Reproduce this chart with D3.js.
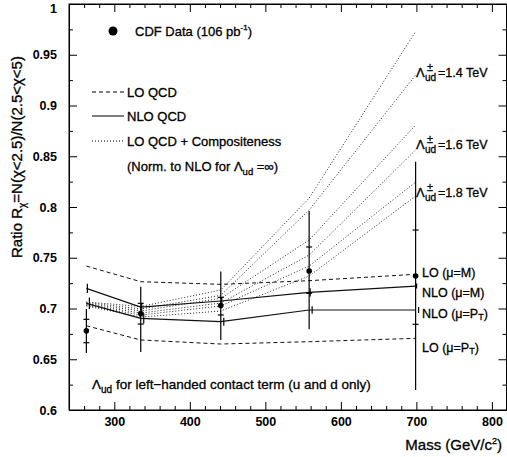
<!DOCTYPE html>
<html><head><meta charset="utf-8">
<script src="https://cdn.jsdelivr.net/npm/d3@7"></script>
<style>
body{margin:0;background:#fff;}
svg text{font-family:"Liberation Sans",Arial,sans-serif;fill:#000;}
svg text.lbl{stroke:#000;stroke-width:0.3px;}
</style></head>
<body><svg id="c" width="507" height="457"></svg>
<script>
// ---- data ----
const massPts = [263, 335, 441, 558, 699];
const dataR      = [0.678, 0.695, 0.703, 0.737, 0.732];
const dataStatHi = [0.6893, 0.7051, 0.7110, 0.7606, 0.7773];
const dataStatLo = [0.6663, 0.6847, 0.6936, 0.7150, 0.6844];
const dataTotHi  = [0.6995, 0.7215, 0.7364, 0.7960, 0.8446];
const dataTotLo  = [0.6561, 0.6571, 0.6690, 0.6795, 0.6197];
const loM   = [0.7418, 0.7264, 0.7238, 0.7274, 0.7337];
const loPt  = [0.6830, 0.6690, 0.6650, 0.6673, 0.6706];
const nloM  = [0.7198, 0.7014, 0.7074, 0.7159, 0.7221];
const nloPt = [0.7051, 0.6903, 0.6870, 0.6985, 0.6985];
const nloMErr  = [0.0045, 0.004, 0.004, 0.004, 0.0025];
const nloPtErr = [0.0057, 0.005, 0.004, 0.0037, 0.003];
const comp14p = [0.7065, 0.7020, 0.7182, 0.8088, 0.9729];
const comp14m = [0.7060, 0.6995, 0.7130, 0.7970, 0.9300];
const comp16p = [0.7050, 0.6975, 0.7100, 0.7675, 0.8807];
const comp16m = [0.7040, 0.6955, 0.7054, 0.7527, 0.8561];
const comp18p = [0.7030, 0.6936, 0.7025, 0.7418, 0.8246];
const comp18m = [0.7025, 0.6916, 0.6975, 0.7320, 0.8108];
const xMajor = [300, 400, 500, 600, 700, 800];
const xMinor = [260, 280, 320, 340, 360, 380, 420, 440, 460, 480, 520, 540, 560, 580, 620, 640, 660, 680, 720, 740, 760, 780, 820];
const yMajor = [0.6, 0.65, 0.7, 0.75, 0.8, 0.85, 0.9, 0.95, 1.0];
const yMinor = [0.625, 0.675, 0.725, 0.775, 0.825, 0.875, 0.925, 0.975];
const yLabels = ["0.6","0.65","0.7","0.75","0.8","0.85","0.9","0.95","1"];

// ---- scales ----
const svg = d3.select("#c");
const x = d3.scaleLinear().domain([240, 820]).range([69, 507]);
const y = d3.scaleLinear().domain([0.6, 1.0]).range([410, 4]);

// ---- axes ----
function styleAxis(g){ g.select(".domain").attr("stroke","#000"); g.selectAll(".tick line").attr("stroke","#000"); }
svg.append("g").attr("transform","translate(0,410)")
  .call(d3.axisBottom(x).tickValues(xMajor).tickSizeInner(-8).tickSizeOuter(0).tickPadding(7).tickFormat(d3.format("d")))
  .call(styleAxis)
  .call(g=>g.selectAll("text").attr("font-size",12.5).attr("font-weight","bold").style("font-family","Liberation Sans,Arial,sans-serif"));
svg.append("g").attr("transform","translate(0,410)")
  .call(d3.axisBottom(x).tickValues(xMinor).tickSizeInner(-4).tickSizeOuter(0).tickFormat(""))
  .call(styleAxis);
svg.append("g").attr("transform","translate(0,4)")
  .call(d3.axisTop(x).tickValues(xMajor).tickSizeInner(-8).tickSizeOuter(0).tickFormat(""))
  .call(styleAxis);
svg.append("g").attr("transform","translate(0,4)")
  .call(d3.axisTop(x).tickValues(xMinor).tickSizeInner(-4).tickSizeOuter(0).tickFormat(""))
  .call(styleAxis);
svg.append("g").attr("transform","translate(69,0)")
  .call(d3.axisLeft(y).tickValues(yMajor).tickSizeInner(-8).tickSizeOuter(0).tickPadding(12).tickFormat((d,i)=>yLabels[i]))
  .call(styleAxis)
  .call(g=>g.selectAll("text").attr("font-size",12.5).attr("font-weight","bold").style("font-family","Liberation Sans,Arial,sans-serif")
    .filter(d=>d===1.0).attr("dy","0.7em"));
svg.append("g").attr("transform","translate(69,0)")
  .call(d3.axisLeft(y).tickValues(yMinor).tickSizeInner(-4).tickSizeOuter(0).tickFormat(""))
  .call(styleAxis);
svg.append("g").attr("transform","translate(506.5,0)")
  .call(d3.axisRight(y).tickValues(yMajor).tickSizeInner(-8).tickSizeOuter(0).tickFormat(""))
  .call(styleAxis);
svg.append("g").attr("transform","translate(506.5,0)")
  .call(d3.axisRight(y).tickValues(yMinor).tickSizeInner(-4).tickSizeOuter(0).tickFormat(""))
  .call(styleAxis);

// ---- curves ----
const line = d3.line().x(d=>x(d[0])).y(d=>y(d[1]));
const pts = arr => massPts.map((m,i)=>[m, arr[i]]);
function curve(arr, dash, w, col){
  svg.append("path").attr("d", line(pts(arr))).attr("fill","none")
    .attr("stroke", col||"#000").attr("stroke-width", w||1).attr("stroke-dasharray", dash||null);
}
[comp14p, comp14m, comp16p, comp16m, comp18p, comp18m].forEach(a=>curve(a, "1,2", 1, "#222"));
curve(loM, "4,3", 1, "#111");
curve(loPt, "4,3", 1, "#111");
curve(nloM, null, 1.2, "#111");
curve(nloPt, null, 1.2, "#111");

// NLO error marks
function nloMarks(arr, err, off){
  massPts.forEach((m,i)=>{
    svg.append("line").attr("x1", x(m)+off).attr("x2", x(m)+off)
      .attr("y1", y(arr[i]+err[i])).attr("y2", y(arr[i]-err[i])).attr("stroke","#000").attr("stroke-width",1.2);
  });
}
nloMarks(nloM, nloMErr, 1);
nloMarks(nloPt, nloPtErr, 3);

// ---- data ----
massPts.forEach((m,i)=>{
  const cx = x(m);
  svg.append("line").attr("x1",cx).attr("x2",cx).attr("y1",y(dataTotHi[i])).attr("y2",y(dataTotLo[i])).attr("stroke","#000").attr("stroke-width",1.2);
  [dataStatHi[i], dataStatLo[i]].forEach(v=>{
    svg.append("line").attr("x1",cx-3).attr("x2",cx+3).attr("y1",y(v)).attr("y2",y(v)).attr("stroke","#000").attr("stroke-width",1.2);
  });
  svg.append("circle").attr("cx",cx).attr("cy",y(dataR[i])).attr("r",2.8).attr("fill","#000");
});

// ---- frame ----
svg.append("rect").attr("x",69).attr("y",4).attr("width",437.5).attr("height",406)
  .attr("fill","none").attr("stroke","#000").attr("stroke-width",1);

// ---- legend ----
svg.append("circle").attr("cx",113).attr("cy",31).attr("r",4.5).attr("fill","#000");
const t1 = svg.append("text").attr("class","lbl").attr("x",135).attr("y",36).attr("font-size",13);
t1.append("tspan").text("CDF Data (106 pb");
t1.append("tspan").attr("font-size",8).attr("dy",-6).text("-1");
t1.append("tspan").attr("dy",6).text(")");

const legItems = [["LO QCD","4,3",92],["NLO QCD",null,116],["LO QCD + Compositeness","1,2",141]];
legItems.forEach(([lab,dash,yy])=>{
  svg.append("line").attr("x1",92).attr("x2",124).attr("y1",yy).attr("y2",yy)
    .attr("stroke","#000").attr("stroke-width",1).attr("stroke-dasharray",dash);
  svg.append("text").attr("class","lbl").attr("x",127).attr("y",yy+5).attr("font-size",13).text(lab);
});
const t2 = svg.append("text").attr("class","lbl").attr("x",127).attr("y",171).attr("font-size",13);
t2.append("tspan").text("(Norm. to NLO for Λ");
t2.append("tspan").attr("font-size",9.5).attr("dy",4).text("ud");
t2.append("tspan").attr("dy",-4).text(" =∞)");

// ---- Lambda labels ----
function lamLabel(yc, txt){
  svg.append("text").attr("class","lbl").attr("x",416).attr("y",yc+5).attr("font-size",13).text("Λ");
  svg.append("text").attr("class","lbl").attr("x",425).attr("y",yc+9).attr("font-size",10).text("ud");
  svg.append("text").attr("class","lbl").attr("x",427).attr("y",yc-1).attr("font-size",11).text("±");
  svg.append("text").attr("class","lbl").attr("x",438).attr("y",yc+5).attr("font-size",12.5).text(txt);
}
lamLabel(72, "=1.4 TeV");
lamLabel(144, "=1.6 TeV");
lamLabel(192, "=1.8 TeV");

// ---- curve labels ----
function curveLabel(yc, pre, post){
  const t = svg.append("text").attr("class","lbl").attr("x",422).attr("y",yc+4.5).attr("font-size",12.5);
  t.append("tspan").text(pre);
  if(post){ t.append("tspan").attr("font-size",9).attr("dy",2).text(post); t.append("tspan").attr("dy",-2).text(")"); }
}
curveLabel(272, "LO (μ=M)");
curveLabel(292, "NLO (μ=M)");
curveLabel(313, "NLO (μ=P", "T");
curveLabel(347, "LO (μ=P", "T");

// ---- bottom note ----
const t3 = svg.append("text").attr("class","lbl").attr("x",92).attr("y",389).attr("font-size",13.5);
t3.append("tspan").text("Λ");
t3.append("tspan").attr("font-size",10).attr("dy",4).text("ud");
t3.append("tspan").attr("dy",-4).text(" for left−handed contact term (u and d only)");

// ---- axis titles ----
const tx = svg.append("text").attr("class","lbl").attr("x",502).attr("y",450).attr("text-anchor","end").attr("font-size",15);
tx.append("tspan").text("Mass (GeV/c");
tx.append("tspan").attr("font-size",9).attr("dy",-6).text("2");
tx.append("tspan").attr("dy",6).text(")");

const ty = svg.append("text").attr("class","lbl").attr("transform","translate(22,157) rotate(-90)").attr("text-anchor","middle").attr("font-size",15);
ty.append("tspan").text("Ratio R");
ty.append("tspan").attr("font-size",10).attr("dy",4).text("χ");
ty.append("tspan").attr("dy",-4).text("=N(χ<2.5)/N(2.5<χ<5)");
</script></body></html>
